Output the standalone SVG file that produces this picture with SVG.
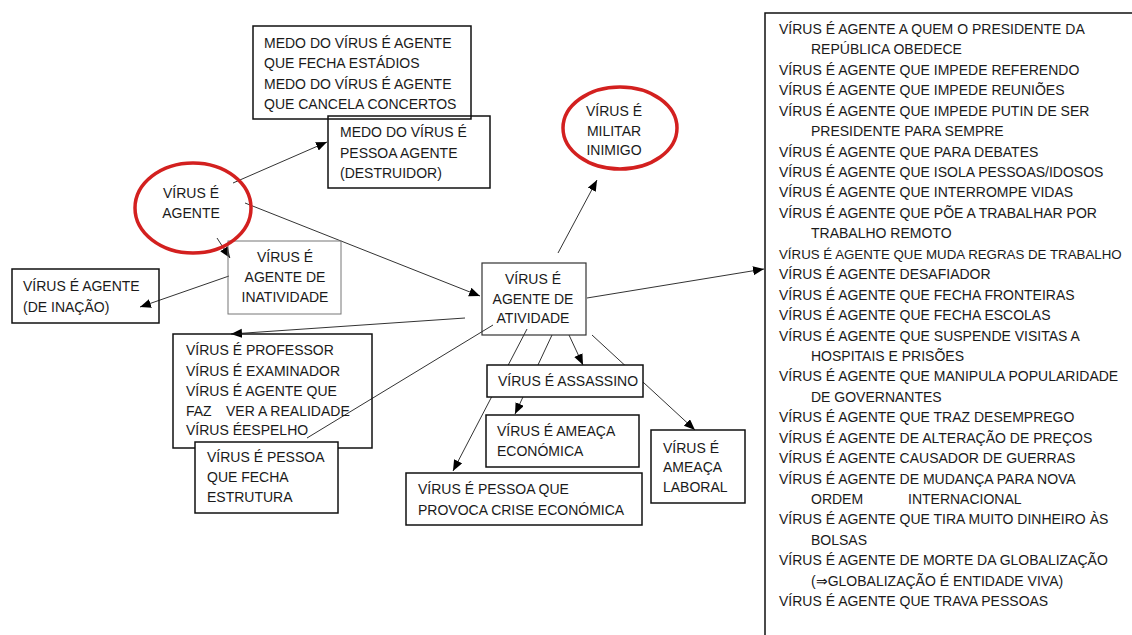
<svg xmlns="http://www.w3.org/2000/svg" width="1132" height="635" viewBox="0 0 1132 635">
<defs>
<style>
text{font-family:"Liberation Sans",Arial,sans-serif;font-size:14px;fill:#1a1a1a}
.c{text-anchor:middle}
.box{fill:#fff;stroke:#111;stroke-width:1.5}
.open{fill:none;stroke:#111;stroke-width:1.5}
.thin{fill:none;stroke:#777;stroke-width:1}
.oval{fill:none;stroke:#d3201f;stroke-width:3.5}
.ln{stroke:#333;stroke-width:1;fill:none}
.arr{marker-end:url(#ah)}
</style>
<marker id="ah" markerUnits="userSpaceOnUse" markerWidth="12" markerHeight="10" refX="11" refY="4.5" orient="auto">
<path d="M0,0 L11,4.5 L0,9 z" fill="#000"/>
</marker>
</defs>
<rect width="1132" height="635" fill="#fff"/>

<g id="connectors">
<line class="ln arr" x1="233" y1="183" x2="327" y2="142"/>
<line class="ln arr" x1="245" y1="203" x2="480" y2="296"/>
<line class="ln arr" x1="217" y1="238" x2="230" y2="258"/>
<line class="ln arr" x1="229" y1="276" x2="140" y2="307"/>
<line class="ln arr" x1="465" y1="318" x2="231" y2="334"/>
<line class="ln" x1="493" y1="325" x2="307" y2="438"/>
<line class="ln arr" x1="558" y1="253" x2="597" y2="180"/>
<line class="ln arr" x1="587" y1="298" x2="764" y2="269"/>
<line class="ln arr" x1="527" y1="329" x2="453" y2="471"/>
<line class="ln arr" x1="552" y1="335" x2="515" y2="414"/>
<line class="ln arr" x1="569" y1="335" x2="583" y2="365"/>
<line class="ln arr" x1="592" y1="335" x2="695" y2="430"/>
</g>

<g id="medo-fecha">
<rect class="open" x="253" y="26" width="218" height="93"/>
<text x="264" y="48">MEDO DO VÍRUS É AGENTE</text>
<text x="264" y="68.3">QUE FECHA ESTÁDIOS</text>
<text x="264" y="88.6">MEDO DO VÍRUS É AGENTE</text>
<text x="264" y="109">QUE CANCELA CONCERTOS</text>
</g>

<g id="medo-destruidor">
<rect class="open" x="328" y="116" width="162" height="72"/>
<text x="340" y="137">MEDO DO VÍRUS É</text>
<text x="340" y="158">PESSOA AGENTE</text>
<text x="340" y="178">(DESTRUIDOR)</text>
</g>

<g id="inatividade">
<rect class="thin" x="228" y="241" width="113" height="73"/>
<text class="c" x="285" y="262">VÍRUS É</text>
<text class="c" x="285" y="282">AGENTE DE</text>
<text class="c" x="285" y="302">INATIVIDADE</text>
</g>

<g id="virus-agente">
<ellipse class="oval" cx="193" cy="208" rx="58" ry="45"/>
<text class="c" x="191" y="198">VÍRUS É</text>
<text class="c" x="191" y="218">AGENTE</text>
</g>

<g id="inacao">
<rect class="open" x="12" y="269" width="147" height="54"/>
<text x="23" y="291">VÍRUS É AGENTE</text>
<text x="23" y="312">(DE INAÇÃO)</text>
</g>

<g id="atividade">
<rect class="open" x="482" y="263" width="104" height="72" style="stroke:#333;stroke-width:1.2"/>
<text class="c" x="533" y="284">VÍRUS É</text>
<text class="c" x="533" y="304">AGENTE DE</text>
<text class="c" x="533" y="323">ATIVIDADE</text>
</g>

<g id="militar">
<ellipse class="oval" cx="620" cy="128" rx="57" ry="41"/>
<text class="c" x="614" y="116">VÍRUS É</text>
<text class="c" x="614" y="136">MILITAR</text>
<text class="c" x="614" y="155">INIMIGO</text>
</g>

<g id="professor">
<rect class="open" x="173" y="334" width="199" height="114"/>
<text x="186" y="355">VÍRUS É PROFESSOR</text>
<text x="186" y="376">VÍRUS É EXAMINADOR</text>
<text x="186" y="396">VÍRUS É AGENTE QUE</text>
<text y="416"><tspan x="186">FAZ</tspan><tspan x="226">VER A REALIDADE</tspan></text>
<text x="186" y="435">VÍRUS ÉESPELHO</text>
</g>

<g id="estrutura">
<rect class="box" x="195" y="442" width="143" height="71"/>
<text x="207" y="462">VÍRUS É PESSOA</text>
<text x="207" y="482">QUE FECHA</text>
<text x="207" y="502">ESTRUTURA</text>
</g>

<g id="assassino">
<rect class="box" x="487" y="365" width="156" height="32"/>
<text x="498" y="386">VÍRUS É ASSASSINO</text>
</g>

<g id="ameaca-economica">
<rect class="open" x="486" y="415" width="153" height="52"/>
<text x="497" y="436">VÍRUS É AMEAÇA</text>
<text x="497" y="456">ECONÓMICA</text>
</g>

<g id="ameaca-laboral">
<rect class="open" x="651" y="430" width="94" height="73"/>
<text x="663" y="453">VÍRUS É</text>
<text x="663" y="472">AMEAÇA</text>
<text x="663" y="492">LABORAL</text>
</g>

<g id="crise">
<rect class="open" x="406" y="473" width="236" height="52"/>
<text x="418" y="494">VÍRUS É PESSOA QUE</text>
<text x="418" y="515">PROVOCA CRISE ECONÓMICA</text>
</g>

<g id="lista">
<rect class="open" x="765" y="13" width="400" height="700"/>
<text x="779" y="34">VÍRUS É AGENTE A QUEM O PRESIDENTE DA</text>
<text x="811" y="54.4">REPÚBLICA OBEDECE</text>
<text x="779" y="74.9">VÍRUS É AGENTE QUE IMPEDE REFERENDO</text>
<text x="779" y="95.3">VÍRUS É AGENTE QUE IMPEDE REUNIÕES</text>
<text x="779" y="115.7">VÍRUS É AGENTE QUE IMPEDE PUTIN DE SER</text>
<text x="811" y="136.2">PRESIDENTE PARA SEMPRE</text>
<text x="779" y="156.6">VÍRUS É AGENTE QUE PARA DEBATES</text>
<text x="779" y="177">VÍRUS É AGENTE QUE ISOLA PESSOAS/IDOSOS</text>
<text x="779" y="197.4">VÍRUS É AGENTE QUE INTERROMPE VIDAS</text>
<text x="779" y="217.9">VÍRUS É AGENTE QUE PÕE A TRABALHAR POR</text>
<text x="811" y="238.3">TRABALHO REMOTO</text>
<text x="779" y="258.7" style="font-size:13.3px">VÍRUS É AGENTE QUE MUDA REGRAS DE TRABALHO</text>
<text x="779" y="279.2">VÍRUS É AGENTE DESAFIADOR</text>
<text x="779" y="299.6">VÍRUS É AGENTE QUE FECHA FRONTEIRAS</text>
<text x="779" y="320">VÍRUS É AGENTE QUE FECHA ESCOLAS</text>
<text x="779" y="340.5">VÍRUS É AGENTE QUE SUSPENDE VISITAS A</text>
<text x="811" y="360.9">HOSPITAIS E PRISÕES</text>
<text x="779" y="381.3">VÍRUS É AGENTE QUE MANIPULA POPULARIDADE</text>
<text x="811" y="401.7">DE GOVERNANTES</text>
<text x="779" y="422.2">VÍRUS É AGENTE QUE TRAZ DESEMPREGO</text>
<text x="779" y="442.6">VÍRUS É AGENTE DE ALTERAÇÃO DE PREÇOS</text>
<text x="779" y="463">VÍRUS É AGENTE CAUSADOR DE GUERRAS</text>
<text x="779" y="483.5">VÍRUS É AGENTE DE MUDANÇA PARA NOVA</text>
<text y="503.9"><tspan x="811">ORDEM</tspan><tspan x="908">INTERNACIONAL</tspan></text>
<text x="779" y="524.3">VÍRUS É AGENTE QUE TIRA MUITO DINHEIRO ÀS</text>
<text x="811" y="544.8">BOLSAS</text>
<text x="779" y="565.2">VÍRUS É AGENTE DE MORTE DA GLOBALIZAÇÃO</text>
<text x="811" y="585.6">(⇒GLOBALIZAÇÃO É ENTIDADE VIVA)</text>
<text x="779" y="606">VÍRUS É AGENTE QUE TRAVA PESSOAS</text>
</g>
</svg>
